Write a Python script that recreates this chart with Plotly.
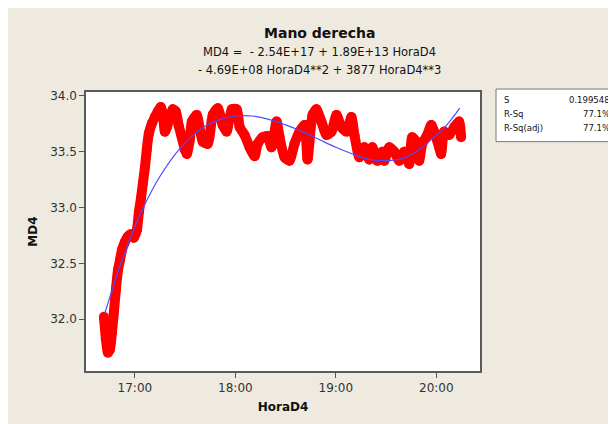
import datetime as dt
import plotly.graph_objects as go

# ---------------- data (minutes after 16:00, MD4 value) ----------------
obs_minutes = [41.5, 42.7, 43.9, 45.1, 46.3, 47.5, 48.7, 49.9, 51.1, 52.3, 54.0, 55.8, 57.6, 59.4,
               61.2, 62.4, 63.6, 64.8, 66.0, 67.1, 68.3, 70.1, 71.9, 73.7, 75.5, 76.7, 77.9, 79.1,
               80.9, 82.6, 84.4, 86.2, 88.0, 89.8, 91.0, 92.8, 94.0, 96.9, 100.5, 103.5, 106.5,
               109.5, 112.4, 114.8, 117.8, 120.8, 122.6, 125.5, 128.5, 131.5, 133.3, 136.3, 139.2,
               141.6, 144.6, 146.4, 149.4, 152.3, 155.3, 158.3, 161.3, 163.1, 166.1, 168.4, 171.4,
               174.4, 177.4, 180.4, 183.3, 186.3, 189.3, 191.1, 194.1, 197.0, 200.0, 201.8, 204.8,
               207.8, 209.0, 211.9, 214.9, 217.9, 220.9, 223.8, 225.6, 228.0, 229.8, 231.6, 234.6,
               237.0, 238.7, 241.7, 242.9, 244.7, 247.7, 250.7, 253.6, 254.8]
obs_md4 = [32.02, 31.82, 31.70, 31.73, 31.88, 32.07, 32.27, 32.44, 32.53, 32.62, 32.69, 32.74, 32.76,
           32.73, 32.80, 32.96, 33.08, 33.22, 33.36, 33.52, 33.66, 33.75, 33.81, 33.86, 33.90, 33.84,
           33.68, 33.72, 33.81, 33.88, 33.86, 33.73, 33.63, 33.52, 33.48, 33.61, 33.77, 33.83, 33.59,
           33.57, 33.83, 33.89, 33.74, 33.68, 33.88, 33.88, 33.72, 33.65, 33.54, 33.46, 33.57, 33.63,
           33.64, 33.54, 33.77, 33.63, 33.45, 33.42, 33.57, 33.68, 33.74, 33.43, 33.83, 33.88, 33.77,
           33.65, 33.68, 33.83, 33.72, 33.68, 33.81, 33.65, 33.45, 33.54, 33.43, 33.54, 33.42, 33.50,
           33.42, 33.54, 33.50, 33.42, 33.50, 33.39, 33.63, 33.59, 33.42, 33.57, 33.65, 33.74, 33.68,
           33.54, 33.48, 33.68, 33.65, 33.72, 33.77, 33.63]

fit_minutes = [42, 51, 60, 65, 75, 87, 100, 110, 120, 130, 140, 150, 160, 170, 180, 190, 200,
               210, 220, 230, 237, 244, 249, 254]
fit_md4 = [32.05, 32.47, 32.83, 33.00, 33.28, 33.53, 33.71, 33.785, 33.82, 33.82, 33.79, 33.74,
           33.68, 33.61, 33.54, 33.48, 33.43, 33.42, 33.44, 33.52, 33.61, 33.70, 33.79, 33.89]

title_text = "Mano derecha"
equation_lines = ["MD4 =  - 2.54E+17 + 1.89E+13 HoraD4",
                  "- 4.69E+08 HoraD4**2 + 3877 HoraD4**3"]
stat_names = ["S", "R-Sq", "R-Sq(adj)"]
stat_values = ["0.199548", "77.1%", "77.1%"]
x_tick_labels = ["17:00", "18:00", "19:00", "20:00"]
y_tick_values = [32.0, 32.5, 33.0, 33.5, 34.0]

base = dt.datetime(2000, 1, 1, 16, 0, 0)
def to_time(m):
    return base + dt.timedelta(minutes=m)

obs_x = [to_time(m) for m in obs_minutes]
fit_x = [to_time(m) for m in fit_minutes]
tick_x = [to_time(60 * (i + 1)) for i in range(len(x_tick_labels))]

BG = "#eeeae0"
FONT = "DejaVu Sans"
TXT = "#2f3338"

fig = go.Figure()
fig.add_trace(go.Scatter(x=obs_x, y=obs_md4, mode="lines+markers",
                         line=dict(color="#ff0000", width=10, shape="spline", smoothing=0.6),
                         marker=dict(color="#ff0000", size=10),
                         hoverinfo="skip", showlegend=False))
fig.add_trace(go.Scatter(x=fit_x, y=fit_md4, mode="lines",
                         line=dict(color="#4b4bff", width=1.2, shape="spline"),
                         hoverinfo="skip", showlegend=False))

# the page body adds an 8px offset, so figure pixels = reference pixels - 8
OFF = 8
W, H = 608, 416
L, T = 86 - OFF, 92 - OFF
R = W - (480 - OFF)
B = H - (373 - OFF)
PW, PH = W - L - R, H - T - B
def px(x):
    return (x - OFF - L) / PW
def py(y):
    return (H - B - (y - OFF)) / PH

shapes = [
    dict(type="rect", xref="paper", yref="paper", x0=px(496), x1=px(640), y0=py(142), y1=py(89),
         fillcolor="white", line=dict(color="#7a7a7a", width=1)),
]

annotations = [
    dict(text="<b>" + title_text + "</b>", x=px(319), y=py(33), xref="paper", yref="paper",
         showarrow=False, font=dict(family=FONT, size=14, color="#111111"), xanchor="center", yanchor="middle"),
]
for i, line in enumerate(equation_lines):
    annotations.append(dict(text=line, x=px(319), y=py(52 + 18 * i), xref="paper", yref="paper",
                            showarrow=False, font=dict(family=FONT, size=11.5, color="#111111"),
                            xanchor="center", yanchor="middle"))
for i, (n, v) in enumerate(zip(stat_names, stat_values)):
    yy = py(100 + 14 * i)
    annotations.append(dict(text=n, x=px(502), y=yy, xref="paper", yref="paper", showarrow=False,
                            font=dict(family=FONT, size=8.5, color="#111111"), xanchor="left", yanchor="middle"))
    annotations.append(dict(text=v, x=px(612), y=yy, xref="paper", yref="paper", showarrow=False,
                            font=dict(family=FONT, size=8.5, color="#111111"), xanchor="right", yanchor="middle"))

fig.update_layout(
    width=W, height=H,
    margin=dict(l=L, r=R, t=T, b=B),
    paper_bgcolor=BG, plot_bgcolor="white",
    shapes=shapes, annotations=annotations,
    xaxis=dict(type="date", range=[to_time(30.8), to_time(266.1)],
               tickvals=tick_x, ticktext=x_tick_labels,
               ticks="outside", ticklen=5, tickcolor="#555", showgrid=False, zeroline=False,
               showline=True, linecolor="#5a5a5a", linewidth=1.5, mirror=True,
               tickfont=dict(family=FONT, size=12, color=TXT),
               title=dict(text="<b>HoraD4</b>", font=dict(family=FONT, size=12, color="#111111"), standoff=8)),
    yaxis=dict(range=[31.535, 34.035], tickvals=y_tick_values, tickformat=".1f",
               ticks="outside", ticklen=5, tickcolor="#555", showgrid=False, zeroline=False,
               showline=True, linecolor="#5a5a5a", linewidth=1.5, mirror=True,
               tickfont=dict(family=FONT, size=12, color=TXT),
               title=dict(text="<b>MD4</b>", font=dict(family=FONT, size=12, color="#111111"), standoff=10)),
)

fig.write_html("out.html")
